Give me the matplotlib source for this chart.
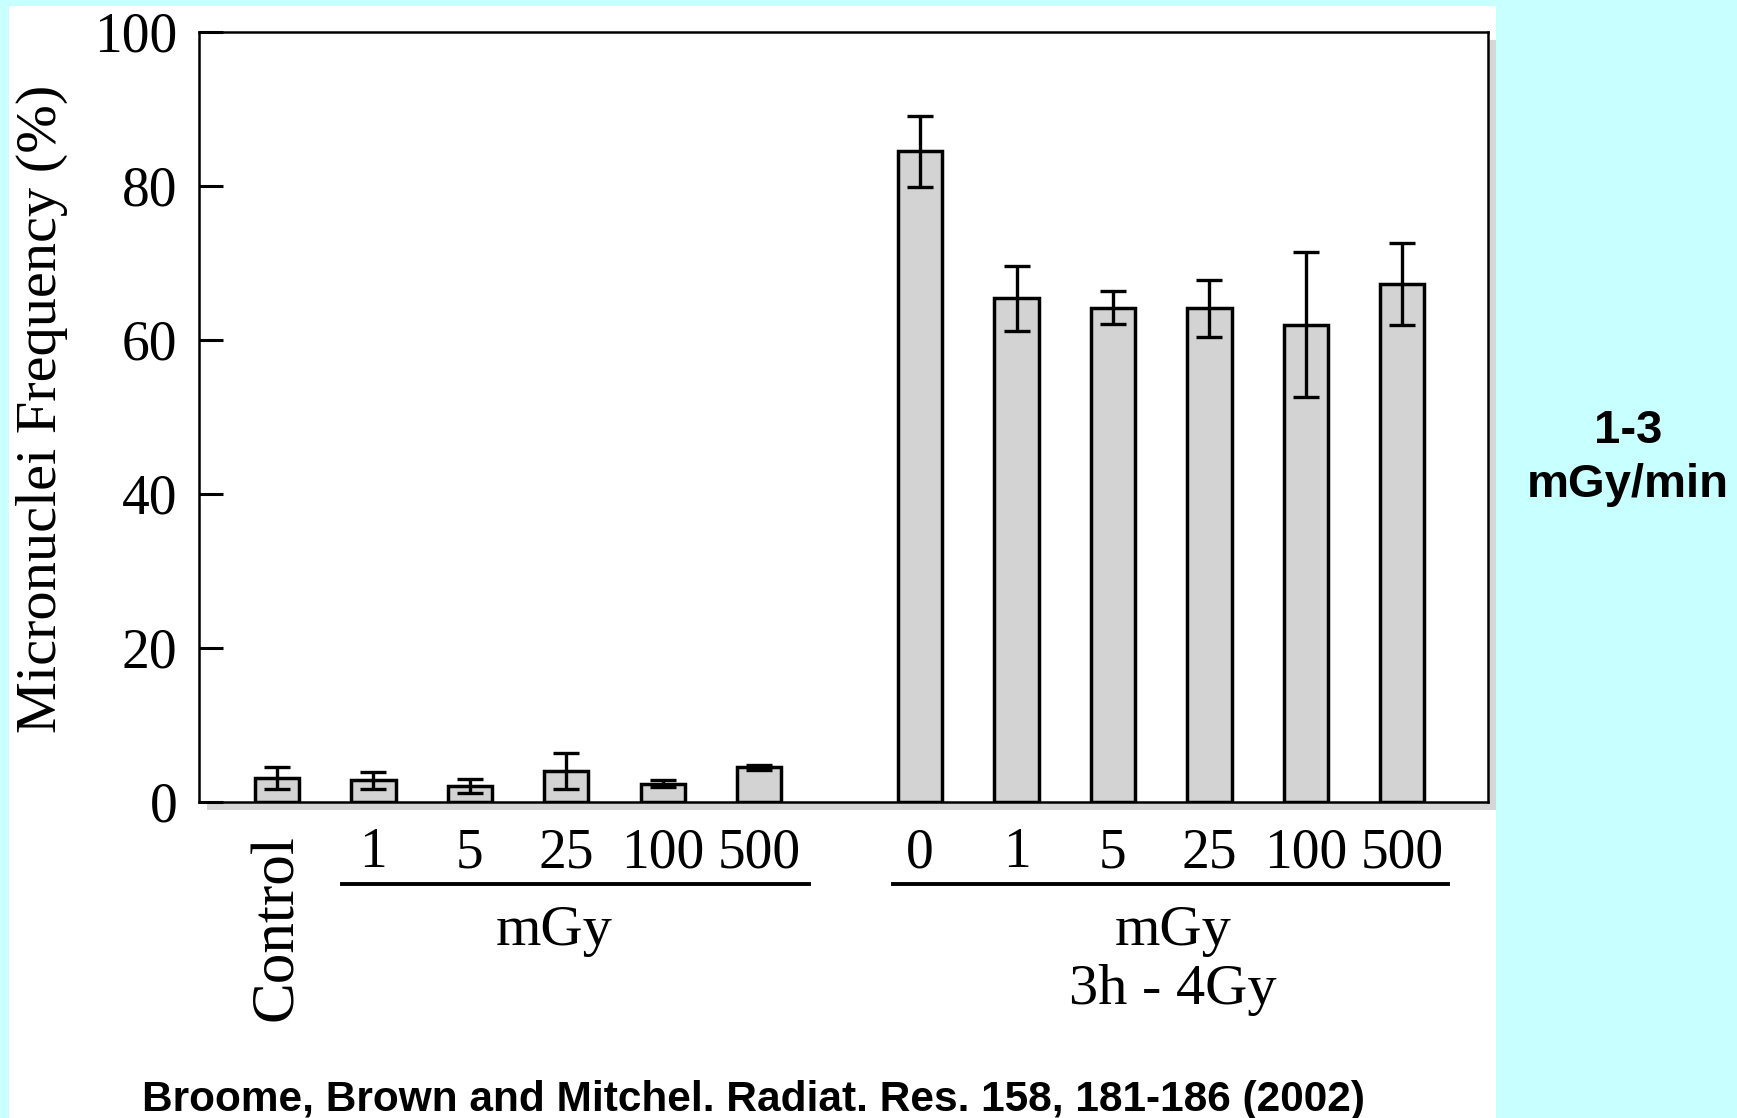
import matplotlib
matplotlib.use("Agg")
import matplotlib.pyplot as plt
from matplotlib.patches import Rectangle
from matplotlib.lines import Line2D
import matplotlib.transforms as mtransforms

# Micronuclei frequency (%) with standard errors
low_dose_labels = ["Control", "1", "5", "25", "100", "500"]
low_dose_values = [3.1, 2.8, 2.1, 4.0, 2.4, 4.5]
low_dose_errors = [1.4, 1.1, 0.9, 2.3, 0.4, 0.3]

challenge_labels = ["0", "1", "5", "25", "100", "500"]
challenge_values = [84.5, 65.4, 64.2, 64.1, 62.0, 67.3]
challenge_errors = [4.6, 4.2, 2.1, 3.7, 9.4, 5.3]

y_ticks = [0, 20, 40, 60, 80, 100]
y_label = "Micronuclei Frequency (%)"
group_unit = "mGy"
challenge_note = "3h - 4Gy"
dose_rate = "1-3\nmGy/min"
citation = "Broome, Brown and Mitchel. Radiat. Res. 158, 181-186 (2002)"

# layout
W, H, DPI = 1737, 1118, 100
BG = "#c8ffff"
BAR_FILL = "#d3d3d3"
serif = ["Liberation Serif", "DejaVu Serif"]
sans = ["Liberation Sans", "DejaVu Sans"]

low_x = [float(i) for i in range(len(low_dose_values))]
gap_start = 6.67
high_x = [gap_start + i for i in range(len(challenge_values))]

fig = plt.figure(figsize=(W / DPI, H / DPI), dpi=DPI, facecolor=BG)

# white panel behind the plot
fig.patches.append(Rectangle((9 / W, 0), (1496 - 9) / W, 1 - 5.5 / H,
                             transform=fig.transFigure, facecolor="white",
                             edgecolor="none", zorder=0))

ax_l, ax_r, ax_t, ax_b = 199.4, 1488.0, 32.0, 802.0
# drop shadow of the plot frame
sh = 8
fig.patches.append(Rectangle(((ax_l + sh) / W, 1 - (ax_b + sh) / H),
                             (ax_r - ax_l) / W, (ax_b - ax_t) / H,
                             transform=fig.transFigure, facecolor="#d6d6d6",
                             edgecolor="none", zorder=0.5))

ax = fig.add_axes([ax_l / W, 1 - ax_b / H, (ax_r - ax_l) / W, (ax_b - ax_t) / H])
ax.set_facecolor("white")
ax.set_zorder(1)

bar_w = 0.46
err_kw = dict(ecolor="black", elinewidth=2.4, capsize=9.5, capthick=2.4)
ax.bar(low_x, low_dose_values, width=bar_w, color=BAR_FILL, edgecolor="black",
       linewidth=2.5, yerr=low_dose_errors, error_kw=err_kw, zorder=2)
ax.bar(high_x, challenge_values, width=bar_w, color=BAR_FILL, edgecolor="black",
       linewidth=2.5, yerr=challenge_errors, error_kw=err_kw, zorder=2)

ax.set_xlim(-0.805, 12.56)
ax.set_ylim(0, 100)
ax.set_yticks(y_ticks)
ax.set_yticklabels([str(v) for v in y_ticks], fontfamily=serif, fontsize=40)
ax.tick_params(axis="y", direction="in", length=17, width=2.2, pad=16)
ax.set_xticks([])
for s in ax.spines.values():
    s.set_linewidth(1.8)

fig.text(42 / W, 1 - 409 / H, y_label, rotation=90, ha="center", va="center",
         fontfamily=serif, fontsize=42)

# category labels under the axis
tr = mtransforms.blended_transform_factory(ax.transData, fig.transFigure)
y_num = 1 - 853 / H
ax.text(low_x[0], 1 - 928 / H, low_dose_labels[0], rotation=90, ha="center",
        va="center", transform=tr, fontfamily=serif, fontsize=44)
for x, lab in zip(low_x[1:], low_dose_labels[1:]):
    ax.text(x, y_num, lab, ha="center", va="center", transform=tr,
            fontfamily=serif, fontsize=40)
for x, lab in zip(high_x, challenge_labels):
    ax.text(x, y_num, lab, ha="center", va="center", transform=tr,
            fontfamily=serif, fontsize=40)

# group underlines and unit labels
y_line = 1 - 884 / H
for x0, x1 in [(0.67, 5.52), (6.39, 12.15)]:
    ax.add_line(Line2D([x0, x1], [y_line, y_line], transform=tr, color="black",
                       linewidth=2.8, clip_on=False))
ax.text(2.87, 1 - 931 / H, group_unit, ha="center", va="center",
        transform=tr, fontfamily=serif, fontsize=42)
ax.text(9.29, 1 - 931 / H, group_unit, ha="center", va="center",
        transform=tr, fontfamily=serif, fontsize=42)
ax.text(9.29, 1 - 990 / H, challenge_note, ha="center", va="center",
        transform=tr, fontfamily=serif, fontsize=42)

fig.text(753 / W, 1 - 1100 / H, citation, ha="center", va="center",
         fontfamily=sans, fontweight="bold", fontsize=30.5)
fig.text(1628 / W, 1 - 458 / H, dose_rate, ha="center", va="center",
         fontfamily=sans, fontweight="bold", fontsize=34, linespacing=1.3)

fig.savefig("out.png", dpi=DPI, facecolor=BG)
